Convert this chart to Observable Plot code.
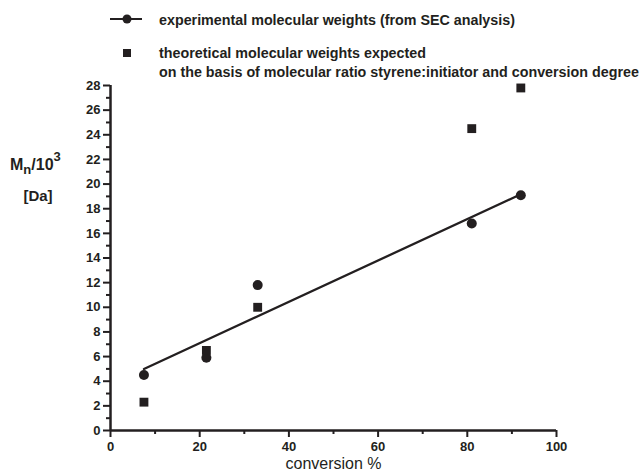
<!DOCTYPE html>
<html><head><meta charset="utf-8">
<script src="https://cdn.jsdelivr.net/npm/d3@7"></script>
<script src="https://cdn.jsdelivr.net/npm/@observablehq/plot@0.6"></script>
<style>
body{margin:0;background:#fff;}
#wrap{position:relative;width:641px;height:476px;overflow:hidden;}
#overlay{position:absolute;left:0;top:0;pointer-events:none;font-family:"Liberation Sans",Arial,sans-serif;font-weight:bold;}
</style></head>
<body>
<div id="wrap">
<div id="chart"></div>
<svg id="overlay" width="641" height="476">
  <line x1="110" y1="19" x2="142" y2="19" stroke="#231f20" stroke-width="2"/>
  <circle cx="127" cy="19" r="4.5" fill="#231f20"/>
  <text x="159" y="24.5" font-size="14.3" fill="#231f20">experimental molecular weights (from SEC analysis)</text>
  <rect x="123" y="49" width="8" height="8" fill="#231f20"/>
  <text x="159" y="58" font-size="14.3" fill="#231f20">theoretical molecular weights expected</text>
  <text x="159" y="77" font-size="14.3" fill="#231f20">on the basis of molecular ratio styrene:initiator and conversion degree</text>
  <text x="10" y="170" font-size="16" fill="#231f20">M<tspan font-size="13" dy="4">n</tspan><tspan dy="-4">/10</tspan><tspan font-size="13" dy="-9">3</tspan></text>
  <text x="38" y="201" font-size="15" text-anchor="middle" fill="#231f20">[Da]</text>
</svg>
</div>
<script>
const conversion = [7.5, 21.5, 33, 81, 92];
const experimental = [4.5, 5.9, 11.8, 16.8, 19.1];
const theoretical = [2.3, 6.5, 10.0, 24.5, 27.8];
const xMajor = [0, 20, 40, 60, 80, 100];
const xMinor = [10, 30, 50, 70, 90];
const yMajor = [0, 2, 4, 6, 8, 10, 12, 14, 16, 18, 20, 22, 24, 26, 28];
const yMinor = [1, 3, 5, 7, 9, 11, 13, 15, 17, 19, 21, 23, 25, 27];

const exp = conversion.map((c, i) => ({x: c, y: experimental[i]}));
const theo = conversion.map((c, i) => ({x: c, y: theoretical[i]}));
const ink = "#231f20";

const chart = Plot.plot({
  width: 641,
  height: 476,
  marginLeft: 110,
  marginRight: 85,
  marginTop: 85,
  marginBottom: 46,
  x: {domain: [0, 100]},
  y: {domain: [0, 28]},
  style: "font-family:'Liberation Sans',Arial,sans-serif;font-size:13px;font-weight:bold;color:#231f20;background:transparent;",
  marks: [
    Plot.axisX({ticks: xMinor, tickSize: 4, strokeWidth: 2, tickFormat: () => "", label: null, stroke: ink}),
    Plot.axisX({ticks: xMajor, tickSize: 7, strokeWidth: 2, tickPadding: 4, label: null, stroke: ink, fill: ink, fontSize: 13, fontWeight: "bold"}),
    Plot.axisY({ticks: yMinor, tickSize: 4, strokeWidth: 2, tickFormat: () => "", label: null, stroke: ink}),
    Plot.axisY({ticks: yMajor, tickSize: 7, strokeWidth: 2, tickPadding: 3, label: null, stroke: ink, fill: ink, fontSize: 13, fontWeight: "bold"}),
    Plot.ruleX([0], {stroke: ink, strokeWidth: 2.5}),
    Plot.ruleY([0], {stroke: ink, strokeWidth: 2.5}),
    Plot.linearRegressionY(exp, {x: "x", y: "y", ci: 0, stroke: ink, strokeWidth: 2.3}),
    Plot.dot(exp, {x: "x", y: "y", r: 5, fill: ink, stroke: "none"}),
    Plot.dot(theo, {x: "x", y: "y", symbol: "square", r: 5, fill: ink, stroke: "none"}),
    Plot.text(["conversion %"], {frameAnchor: "bottom", dy: 38, fontSize: 16, fontWeight: "normal", fill: ink})
  ]
});
document.getElementById("chart").appendChild(chart);
</script>
</body></html>
